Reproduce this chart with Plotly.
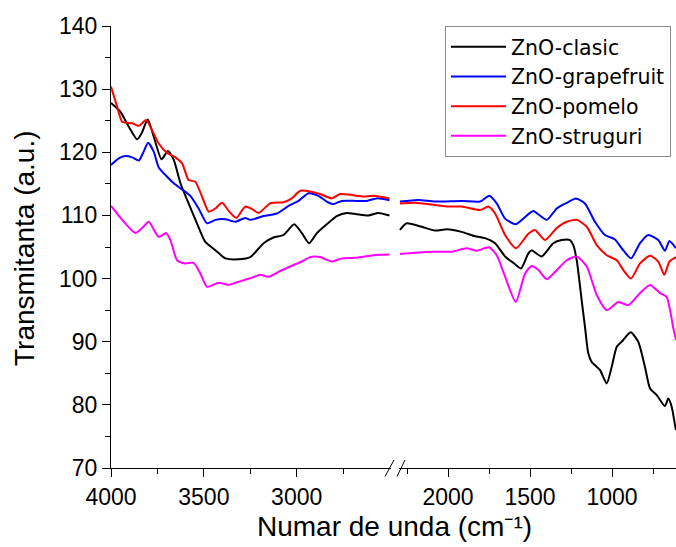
import plotly.graph_objects as go

# FTIR transmittance spectra of ZnO samples, split x-axis (4000-2500 | 2300-600 cm-1)

# --- high-wavenumber segment ---
clasic_hi_wn = [4000, 3949, 3904, 3859, 3835, 3802, 3770, 3728, 3693, 3662, 3626, 3582, 3537,
                3492, 3438, 3384, 3313, 3250, 3178, 3125, 3071, 3013, 2972, 2933, 2891, 2838,
                2784, 2730, 2677, 2614, 2560, 2500]
clasic_hi_t = [127.8, 126.4, 124.05, 122.05, 123.0, 125.2, 122.5, 118.9, 120.2, 118.8, 115.1,
               111.9, 108.75, 105.8, 104.5, 103.2, 103.05, 103.4, 105.6, 106.5, 106.9, 108.6,
               107.2, 105.6, 107.2, 108.6, 109.9, 110.4, 110.2, 110.0, 110.4, 110.0]

grape_hi_wn = [4000, 3958, 3922, 3886, 3850, 3824, 3800, 3770, 3743, 3707, 3662, 3617, 3573,
               3528, 3483, 3438, 3384, 3331, 3277, 3250, 3178, 3106, 3044, 2990, 2936, 2883,
               2838, 2802, 2757, 2677, 2623, 2569, 2500]
grape_hi_t = [118.0, 119.05, 119.4, 119.2, 118.7, 120.1, 121.5, 120.1, 117.6, 116.4, 115.1,
              114.1, 113.1, 111.1, 108.75, 109.3, 109.4, 109.0, 109.6, 109.3, 109.9, 110.3,
              111.5, 112.3, 113.5, 113.1, 112.2, 111.8, 112.3, 112.3, 112.3, 112.7, 112.4]

pomelo_hi_wn = [4000, 3967, 3940, 3886, 3850, 3811, 3779, 3743, 3698, 3653, 3617, 3582, 3546,
                3510, 3474, 3438, 3402, 3363, 3325, 3277, 3240, 3205, 3143, 3071, 3026, 2981,
                2928, 2874, 2811, 2766, 2695, 2641, 2587, 2500]
pomelo_hi_t = [130.4, 127.2, 124.85, 124.6, 124.2, 125.1, 123.5, 121.4, 119.9, 119.2, 118.25,
               115.6, 115.35, 113.0, 110.6, 111.1, 112.0, 110.6, 109.6, 111.4, 111.0, 110.4,
               111.9, 112.1, 112.7, 113.9, 113.8, 113.4, 112.7, 113.4, 113.2, 113.0, 113.1, 112.7]

strug_hi_wn = [4000, 3940, 3868, 3832, 3797, 3743, 3703, 3680, 3644, 3600, 3555, 3519, 3483,
               3420, 3367, 3313, 3250, 3196, 3152, 3089, 3017, 2972, 2928, 2874, 2811, 2757,
               2677, 2587, 2500]
strug_hi_t = [111.5, 109.3, 107.2, 108.0, 109.0, 106.6, 107.2, 106.1, 102.9, 102.4, 102.5,
              100.8, 98.7, 99.35, 99.0, 99.5, 100.05, 100.6, 100.3, 101.2, 102.15, 102.7,
              103.4, 103.4, 102.7, 103.2, 103.3, 103.7, 103.8]

# --- low-wavenumber segment ---
clasic_lo_wn = [2293, 2252, 2160, 2079, 2008, 1917, 1835, 1774, 1713, 1652, 1602, 1555, 1510,
                1490, 1429, 1358, 1307, 1256, 1236, 1215, 1185, 1165, 1145, 1124, 1073, 1032,
                1002, 971, 941, 886, 840, 799, 768, 727, 677, 657, 636, 616, 610]
clasic_lo_t = [107.7, 108.75, 108.2, 107.6, 107.8, 107.4, 106.7, 106.4, 105.6, 103.5, 102.5,
               101.6, 104.0, 104.5, 103.5, 105.6, 106.1, 106.1, 105.3, 102.9, 96.6, 92.4, 88.2,
               86.8, 85.5, 83.4, 86.0, 89.2, 90.0, 91.5, 90.0, 86.0, 82.6, 81.55, 79.8, 81.0,
               79.7, 76.8, 76.0]

grape_lo_wn = [2293, 2181, 2079, 1917, 1805, 1748, 1703, 1652, 1587, 1510, 1480, 1398, 1337,
               1276, 1220, 1165, 1104, 1043, 982, 941, 884, 829, 779, 718, 677, 650, 610]
grape_lo_t = [112.2, 112.45, 112.2, 112.3, 112.2, 113.1, 111.9, 109.5, 108.6, 110.2, 110.7,
              109.3, 111.1, 112.0, 112.7, 111.9, 109.0, 106.9, 106.2, 104.8, 103.2, 105.6,
              106.9, 106.1, 104.4, 105.95, 104.8]

pomelo_lo_wn = [2293, 2201, 2079, 1998, 1917, 1805, 1754, 1713, 1652, 1585, 1510, 1470, 1409,
                1337, 1276, 1215, 1154, 1093, 1032, 971, 931, 884, 829, 768, 718, 681, 650, 610]
pomelo_lo_t = [111.9, 112.0, 111.65, 111.4, 111.4, 110.85, 111.4, 110.3, 106.9, 104.8, 107.1,
               107.7, 106.1, 108.0, 109.0, 109.3, 108.2, 105.3, 103.7, 102.9, 101.35, 100.0,
               102.4, 103.6, 102.7, 100.6, 102.7, 103.4]

strug_lo_wn = [2293, 2201, 2079, 1977, 1886, 1825, 1750, 1703, 1652, 1587, 1530, 1490, 1450,
               1398, 1327, 1276, 1215, 1154, 1093, 1032, 962, 901, 829, 768, 707, 667, 646,
               625, 610]
strug_lo_t = [103.9, 104.1, 104.25, 104.25, 104.8, 104.4, 104.95, 103.7, 100.3, 96.3, 100.8,
              102.0, 101.4, 99.9, 101.6, 102.9, 103.5, 101.9, 97.4, 95.0, 96.3, 95.8, 97.7,
              99.0, 97.7, 97.1, 95.0, 92.0, 90.3]

# axis ticks
hi_major = [4000, 3500, 3000]
hi_minor = [3750, 3250, 2750]
lo_major = [2000, 1500, 1000]
lo_minor = [2250, 1750, 1250, 750]
y_major = [70, 80, 90, 100, 110, 120, 130, 140]
y_minor = [75, 85, 95, 105, 115, 125, 135]

series = [
    ("ZnO-clasic", "#000000", clasic_hi_wn, clasic_hi_t, clasic_lo_wn, clasic_lo_t),
    ("ZnO-grapefruit", "#0000ff", grape_hi_wn, grape_hi_t, grape_lo_wn, grape_lo_t),
    ("ZnO-pomelo", "#ff0000", pomelo_hi_wn, pomelo_hi_t, pomelo_lo_wn, pomelo_lo_t),
    ("ZnO-struguri", "#ff00ff", strug_hi_wn, strug_hi_t, strug_lo_wn, strug_lo_t),
]

FONT = "Liberation Sans, Arial, sans-serif"
LEG_FONT = "DejaVu Sans, sans-serif"

fig = go.Figure()
for name, color, hw, ht, lw, lt in series:
    line = dict(color=color, width=2, shape="spline", smoothing=0.6)
    fig.add_trace(go.Scatter(x=hw, y=ht, mode="lines", name=name, legendgroup=name,
                             line=line, xaxis="x", yaxis="y"))
    fig.add_trace(go.Scatter(x=lw, y=lt, mode="lines", name=name, legendgroup=name,
                             showlegend=False, line=line, xaxis="x2", yaxis="y"))

# plot area: x from 111 to 676 px, y from 26 to 468 px
L, R, T, B = 111, 676, 26, 468
W, H = R - L, B - T


def px(x):
    return (x - L) / W


def py(y):
    return (B - y) / H


def x_axis(major, minor):
    return dict(
        showline=True, linecolor="black", linewidth=1, mirror=False,
        ticks="outside", ticklen=8, tickwidth=1, tickcolor="black",
        tickmode="array", tickvals=major, ticktext=[str(v) for v in major],
        minor=dict(ticks="outside", ticklen=5, tickwidth=1, tickcolor="black",
                   tickmode="array", tickvals=minor),
        showgrid=False, zeroline=False,
        tickfont=dict(family=FONT, size=23, color="black"),
        anchor="y",
    )


fig.update_layout(
    width=676, height=547,
    margin=dict(l=L, r=0, t=T, b=547 - B, autoexpand=False),
    paper_bgcolor="white", plot_bgcolor="white",
    xaxis=dict(domain=[0, px(391)], range=[4000, 4000 - (391 - 110.5) / 0.186],
               **x_axis(hi_major, hi_minor)),
    xaxis2=dict(domain=[px(399), 1], range=[2000 + (448 - 399) / 0.164, 1000 - (676 - 612) / 0.164],
                **x_axis(lo_major, lo_minor)),
    yaxis=dict(
        range=[70, 140], domain=[0, 1],
        showline=True, linecolor="black", linewidth=1,
        ticks="outside", ticklen=8, tickwidth=1, tickcolor="black",
        tickmode="array", tickvals=y_major, ticktext=[str(v) for v in y_major],
        minor=dict(ticks="outside", ticklen=5, tickwidth=1, tickcolor="black",
                   tickmode="array", tickvals=y_minor),
        showgrid=False, zeroline=False,
        tickfont=dict(family=FONT, size=23, color="black"),
    ),
    legend=dict(
        x=px(445), y=1, xanchor="left", yanchor="top",
        bordercolor="#8c8c8c", borderwidth=1, bgcolor="white",
        font=dict(family=LEG_FONT, size=20.5, color="black"),
        tracegroupgap=0, itemwidth=55,
    ),
    showlegend=True,
)

# axis titles
fig.add_annotation(text="Numar de unda (cm\u207b\u00b9)", xref="paper", yref="paper",
                   x=px(394), y=py(526), xanchor="center", yanchor="middle", showarrow=False,
                   font=dict(family=FONT, size=28, color="black"))
fig.add_annotation(text="Transmitanta (a.u.)", xref="paper", yref="paper",
                   x=px(24), y=py(249), xanchor="center", yanchor="middle", showarrow=False,
                   textangle=-90, font=dict(family=FONT, size=28, color="black"))

# axis-break marks
for x0, x1 in [(385, 394), (397, 405)]:
    fig.add_shape(type="line", xref="paper", yref="paper",
                  x0=px(x0), y0=py(476.5), x1=px(x1), y1=py(460),
                  line=dict(color="black", width=1))

fig.write_html("out.html")
